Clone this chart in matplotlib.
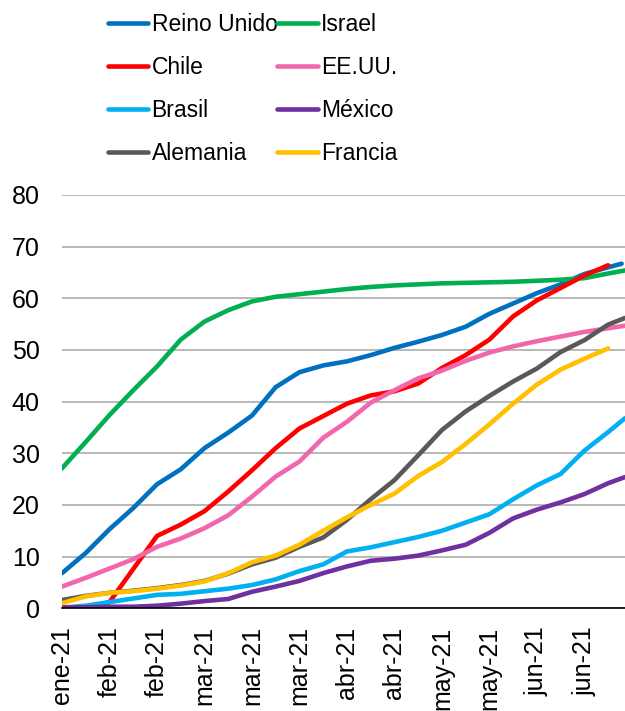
import matplotlib
matplotlib.use("Agg")
import matplotlib.pyplot as plt
import pandas as pd

plt.rcParams["font.family"] = ["Liberation Sans", "DejaVu Sans"]

# Weekly readings, 18-ene-2021 to 28-jun-2021, plus a final reading per series
dates = pd.date_range("2021-01-18", "2021-06-28", freq="7D")

reino_unido = [6.8, 10.7, 15.3, 19.4, 24.0, 26.9, 31.0, 34.0, 37.3, 42.8, 45.7, 47.0,
               47.8, 49.0, 50.4, 51.6, 52.9, 54.5, 57.0, 59.0, 61.0, 62.7, 64.7, 66.0]
israel = [27.1, 32.2, 37.4, 42.2, 46.8, 52.0, 55.5, 57.7, 59.4, 60.3, 60.8, 61.3,
          61.8, 62.2, 62.5, 62.7, 62.9, 63.0, 63.1, 63.2, 63.4, 63.6, 63.9, 64.8]
chile = [0.0, 0.0, 1.2, 7.6, 14.0, 16.2, 18.8, 22.6, 26.7, 31.0, 34.8, 37.2,
         39.6, 41.2, 42.0, 43.5, 46.5, 49.0, 52.0, 56.5, 59.6, 62.0, 64.4, 66.4]
eeuu = [4.2, 5.9, 7.7, 9.5, 11.9, 13.5, 15.5, 18.0, 21.6, 25.5, 28.4, 33.0,
        36.1, 39.8, 42.2, 44.5, 46.0, 47.9, 49.5, 50.7, 51.7, 52.6, 53.5, 54.2]
brasil = [0.1, 0.5, 1.2, 1.9, 2.6, 2.8, 3.3, 3.8, 4.5, 5.6, 7.2, 8.5,
          11.0, 11.8, 12.8, 13.8, 15.0, 16.6, 18.2, 21.1, 23.8, 26.0, 30.5, 34.1]
mexico = [0.2, 0.2, 0.3, 0.3, 0.5, 0.9, 1.4, 1.8, 3.2, 4.2, 5.3, 6.8,
          8.1, 9.2, 9.6, 10.2, 11.2, 12.3, 14.6, 17.4, 19.1, 20.5, 22.1, 24.2]
alemania = [1.6, 2.4, 3.0, 3.4, 3.9, 4.5, 5.3, 6.7, 8.5, 9.8, 11.9, 13.7,
            17.1, 21.1, 24.8, 29.6, 34.5, 38.1, 41.1, 43.9, 46.4, 49.6, 51.9, 54.9]
francia = [1.0, 2.3, 3.0, 3.3, 3.8, 4.4, 5.2, 6.8, 8.9, 10.2, 12.3, 15.0,
           17.6, 20.0, 22.2, 25.6, 28.3, 31.8, 35.6, 39.6, 43.3, 46.2, 48.3, 50.3]

# Last reported value for series that run past 28-jun
tail = {
    "Reino Unido": ("2021-07-02", 66.7),
    "Israel": ("2021-07-03", 65.4),
    "EE.UU.": ("2021-07-03", 54.7),
    "Brasil": ("2021-07-03", 36.8),
    "México": ("2021-07-03", 25.4),
    "Alemania": ("2021-07-03", 56.2),
}

series = [
    ("Reino Unido", reino_unido, "#0070C0"),
    ("Israel", israel, "#00B050"),
    ("Chile", chile, "#FF0000"),
    ("EE.UU.", eeuu, "#F266AC"),
    ("Brasil", brasil, "#00B0F0"),
    ("México", mexico, "#7030A0"),
    ("Alemania", alemania, "#595959"),
    ("Francia", francia, "#FFC000"),
]

tick_dates = pd.date_range("2021-01-18", "2021-06-21", freq="14D")
tick_labels = ["ene-21", "feb-21", "feb-21", "mar-21", "mar-21", "mar-21",
               "abr-21", "abr-21", "may-21", "may-21", "jun-21", "jun-21"]

fig = plt.figure(figsize=(6.25, 7.11), dpi=100)
ax = fig.add_axes([62 / 625, 1 - 608.3 / 711, 1 - 62 / 625, (608.3 - 195) / 711])

handles = {}
for name, vals, color in series:
    x = list(dates)
    y = list(vals)
    if name in tail:
        x.append(pd.Timestamp(tail[name][0]))
        y.append(tail[name][1])
    (ln,) = ax.plot(x, y, color=color, lw=3.3, solid_joinstyle="round",
                    solid_capstyle="round", label=name)
    handles[name] = ln

ax.set_xlim(pd.Timestamp("2021-01-18"), pd.Timestamp("2021-07-03"))
ax.set_ylim(0, 80)
ax.set_yticks(range(0, 81, 10))
ax.set_xticks(tick_dates)
ax.set_xticklabels(tick_labels, rotation=90)
ax.tick_params(axis="both", length=0, labelsize=18, colors="black")
ax.tick_params(axis="y", pad=16)
ax.tick_params(axis="x", pad=13)
ax.grid(axis="y", color="#ADADAD", lw=1.2)
ax.set_axisbelow(True)
for s in ("top", "right", "left"):
    ax.spines[s].set_visible(False)
ax.spines["bottom"].set_color("black")
ax.spines["bottom"].set_linewidth(1.2)
ax.spines["bottom"].set_zorder(3)
ax.patch.set_alpha(0)

order = ["Reino Unido", "Chile", "Brasil", "Alemania",
         "Israel", "EE.UU.", "México", "Francia"]
fig.legend([handles[n] for n in order], order, ncol=2, frameon=False,
           loc="upper left", bbox_to_anchor=(108 / 625, 1 - 13 / 711),
           borderaxespad=0, borderpad=0, fontsize=16.5, handlelength=1.75,
           handletextpad=0.15, columnspacing=0.0, labelspacing=0.87)

fig.savefig("out.png", dpi=100)
